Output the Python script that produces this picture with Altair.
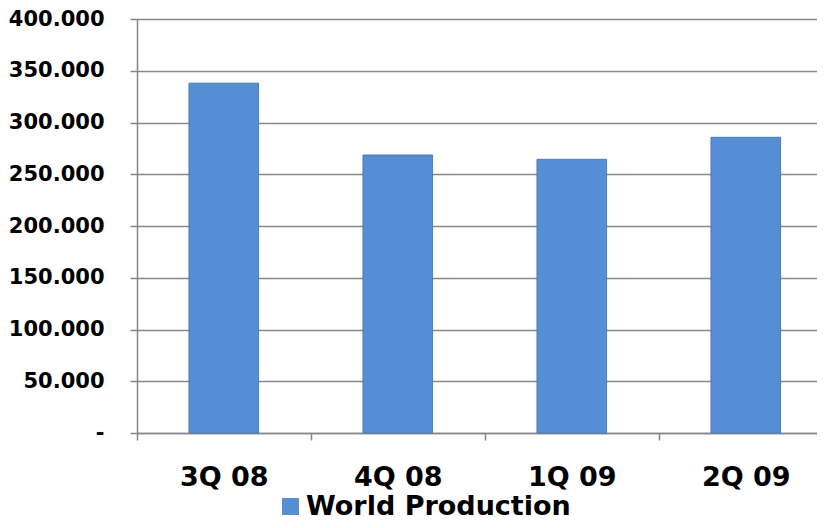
import altair as alt
import pandas as pd

quarters = ["3Q 08", "4Q 08", "1Q 09", "2Q 09"]
production = [338000, 268600, 264400, 285700]
series = ["World Production"] * len(quarters)
y_ticks = [0, 50000, 100000, 150000, 200000, 250000, 300000, 350000, 400000]

df = pd.DataFrame({"quarter": quarters, "value": production, "series": series})

FONT = "DejaVu Sans"
GRID = "#878787"

chart = alt.Chart(df).mark_bar(
    color="#558ED5", stroke="#4A7EBB", strokeWidth=1
).encode(
    x=alt.X(
        "quarter:N",
        sort=quarters,
        title=None,
        scale=alt.Scale(paddingInner=0.6, paddingOuter=0.254, align=0.588),
        axis=alt.Axis(
            labelAngle=0,
            labelFont=FONT,
            labelFontSize=27,
            labelFontWeight="bold",
            labelColor="#000000",
            labelPadding=24,
            tickOffset=-87,
            labelOffset=87,
            tickSize=7,
            tickColor=GRID,
            tickWidth=1.5,
            domainColor=GRID,
            domainWidth=1.5,
            grid=False,
        ),
    ),
    y=alt.Y(
        "value:Q",
        title=None,
        scale=alt.Scale(domain=[0, 400000], nice=False),
        axis=alt.Axis(
            values=y_ticks,
            labelExpr="datum.value == 0 ? '-' : replace(format(datum.value, ','), ',', '.')",
            labelFont=FONT,
            labelFontSize=21,
            labelFontWeight="bold",
            labelColor="#000000",
            labelPadding=26,
            tickSize=7,
            tickColor=GRID,
            tickWidth=1.5,
            domainColor=GRID,
            domainWidth=1.5,
            gridColor=GRID,
            gridWidth=1.5,
        ),
    ),
    color=alt.Color(
        "series:N",
        scale=alt.Scale(range=["#558ED5"]),
        legend=alt.Legend(
            title=None,
            orient="none",
            legendX=140,
            legendY=474,
            direction="horizontal",
            symbolType="square",
            symbolSize=289,
            symbolStrokeWidth=0,
            labelFont=FONT,
            labelFontSize=27,
            labelFontWeight="bold",
            labelColor="#000000",
            labelOffset=2,
            padding=0,
            labelLimit=400,
        ),
    ),
).properties(
    width=680,
    height=414,
    autosize=alt.AutoSizeParams(type="none"),
    padding={"left": 129, "top": 11, "right": 0, "bottom": 87},
).configure_view(stroke=None)

chart.save("out.html", embed_options={"renderer": "svg", "actions": False})
